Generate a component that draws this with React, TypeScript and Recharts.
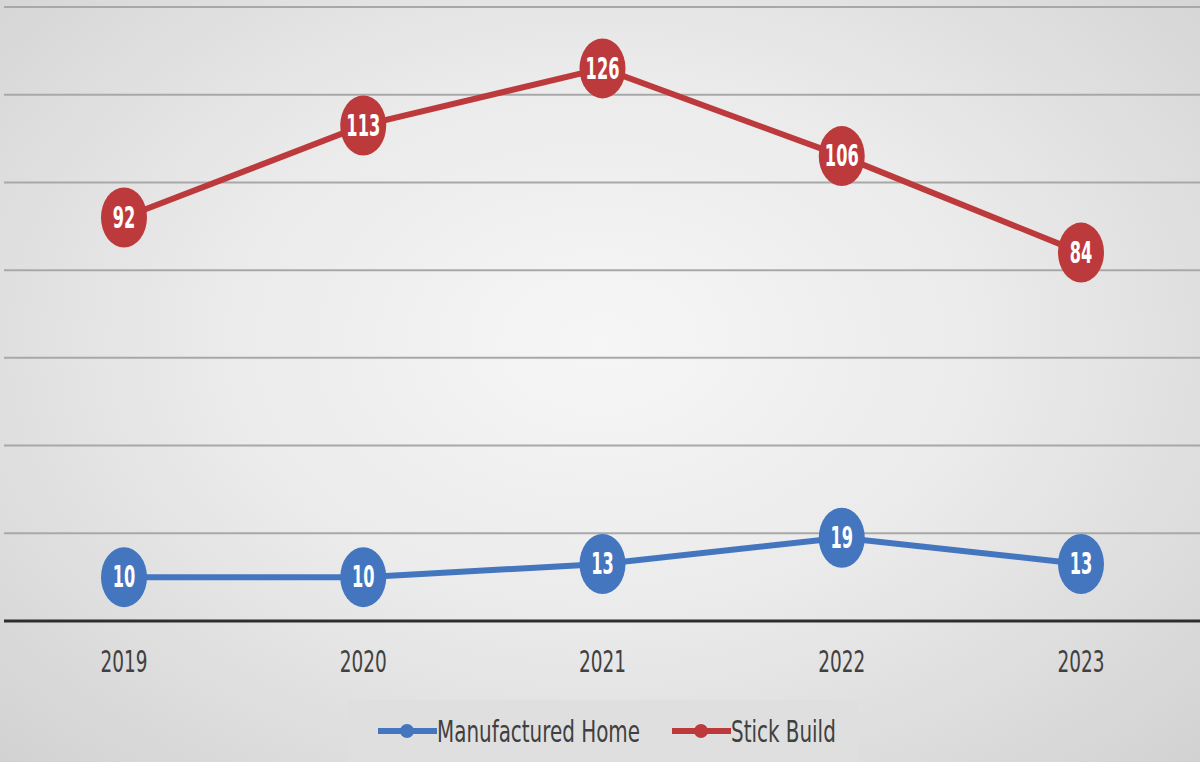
import React from 'react';
import { LineChart, Line, XAxis, YAxis, CartesianGrid } from 'recharts';

const years = ['2019', '2020', '2021', '2022', '2023'];
const manufacturedHome = [10, 10, 13, 19, 13];
const stickBuild = [92, 113, 126, 106, 84];
const yTicks = [0, 20, 40, 60, 80, 100, 120, 140];

const BLUE = '#4475BF';
const RED = '#BD3A3C';
const FONT = '"DejaVu Sans Condensed", "DejaVu Sans", sans-serif';

const data = years.map((year, i) => ({
  year,
  manufactured: manufacturedHome[i],
  stick: stickBuild[i],
}));

// squeezed text to mimic the narrow, tall lettering of the original
const NarrowText = ({ x, y, children, size, fill, bold, sx = 0.78, sy = 1.15 }: any) => (
  <text
    transform={`translate(${x},${y}) scale(${sx},${sy})`}
    x={0}
    y={0}
    fill={fill}
    textAnchor="middle"
    dominantBaseline="central"
    fontFamily={FONT}
    fontWeight={bold ? 'bold' : 'normal'}
    fontSize={size}
  >
    {children}
  </text>
);

const makeDot = (color: string) => (props: any) => {
  const { cx, cy, index } = props;
  return <ellipse key={`dot-${color}-${index}`} cx={cx} cy={cy} rx={23} ry={30} fill={color} />;
};

const renderLabel = (props: any) => {
  const { x, y, value, index } = props;
  return (
    <g key={`lbl-${index}`}>
      <NarrowText x={x} y={y} size={25} fill="#ffffff" bold sx={0.72} sy={1.2}>
        {value}
      </NarrowText>
    </g>
  );
};

const renderTick = (props: any) => {
  const { x, payload } = props;
  return (
    <g>
      <NarrowText x={x} y={661} size={26} fill="#404040" sx={0.79} sy={1.16}>
        {payload.value}
      </NarrowText>
    </g>
  );
};

const LegendItem = ({ color, label, left }: { color: string; label: string; left: number }) => (
  <div style={{ position: 'absolute', left, top: 0, height: 62, display: 'flex', alignItems: 'center', whiteSpace: 'nowrap' }}>
    <svg width={59} height={20}>
      <line x1={0} y1={10} x2={59} y2={10} stroke={color} strokeWidth={6} />
      <circle cx={29} cy={10} r={7} fill={color} />
    </svg>
    <span
      style={{
        fontFamily: FONT,
        fontSize: 27,
        color: '#404040',
        display: 'inline-block',
        transform: 'scale(0.82, 1.12)',
        transformOrigin: 'left center',
      }}
    >
      {label}
    </span>
  </div>
);

export default function App() {
  return (
    <div
      style={{
        position: 'absolute',
        left: 0,
        top: 0,
        width: 1200,
        height: 762,
        overflow: 'hidden',
        background: 'radial-gradient(ellipse at 50% 45%, #f6f6f6 0%, #ebebeb 45%, #d2d2d2 100%)',
      }}
    >
      <LineChart width={1200} height={762} data={data} margin={{ top: 7, right: 0, left: 4, bottom: 91 }}>
        <CartesianGrid horizontal vertical={false} stroke="#a8a8a8" strokeWidth={2} />
        <XAxis
          dataKey="year"
          padding={{ left: 120, right: 119 }}
          axisLine={{ stroke: '#2e2e2e', strokeWidth: 3 }}
          tickLine={false}
          tick={renderTick}
          height={50}
        />
        <YAxis hide domain={[0, 140]} ticks={yTicks} />
        <Line
          dataKey="manufactured"
          name="Manufactured Home"
          stroke={BLUE}
          strokeWidth={6}
          dot={makeDot(BLUE)}
          activeDot={false}
          label={renderLabel}
          isAnimationActive={false}
        />
        <Line
          dataKey="stick"
          name="Stick Build"
          stroke={RED}
          strokeWidth={6}
          dot={makeDot(RED)}
          activeDot={false}
          label={renderLabel}
          isAnimationActive={false}
        />
      </LineChart>
      <div
        style={{
          position: 'absolute',
          left: 348,
          top: 700,
          width: 510,
          height: 62,
          background: '#dfdfdf',
        }}
      >
        <LegendItem color={BLUE} label="Manufactured Home" left={30} />
        <LegendItem color={RED} label="Stick Build" left={324} />
      </div>
    </div>
  );
}
